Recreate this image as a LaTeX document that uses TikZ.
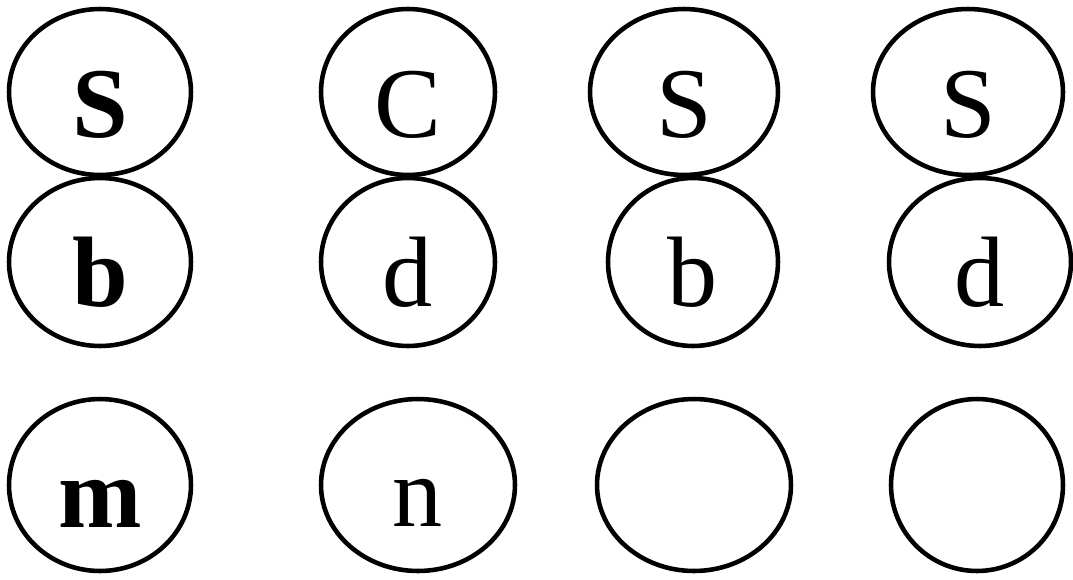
\documentclass[tikz,border=0pt]{standalone}
\usepackage{fontspec}
\setmainfont{Liberation Serif}
\usepackage{tikz}
\usetikzlibrary{shapes.geometric}

\tikzset{
  ring/.style={draw,ellipse,line width=2.6pt,inner sep=0pt,outer sep=0pt},
  lbl/.style={anchor=base,inner sep=0pt}
}

\begin{document}
\begin{tikzpicture}[x=0.02cm,y=-0.02cm,font=\fontsize{57}{60}\selectfont]
\useasboundingbox (0,0) rectangle (1073,579);
% top row
\node[ring,minimum width=3.64cm,minimum height=3.32cm] (topA) at (100,92) {};
\node[ring,minimum width=3.48cm,minimum height=3.32cm] (topB) at (408,92) {};
\node[ring,minimum width=3.76cm,minimum height=3.32cm] (topC) at (684,92) {};
\node[ring,minimum width=3.80cm,minimum height=3.32cm] (topD) at (968,92) {};
% middle row
\node[ring,minimum width=3.64cm,minimum height=3.36cm] (midA) at (100,262) {};
\node[ring,minimum width=3.48cm,minimum height=3.36cm] (midB) at (408,262) {};
\node[ring,minimum width=3.40cm,minimum height=3.36cm] (midC) at (693,262) {};
\node[ring,minimum width=3.64cm,minimum height=3.36cm] (midD) at (980,262) {};
% bottom row
\node[ring,minimum width=3.64cm,minimum height=3.44cm] (botA) at (100,485) {};
\node[ring,minimum width=3.88cm,minimum height=3.44cm] (botB) at (418,485) {};
\node[ring,minimum width=3.88cm,minimum height=3.44cm] (botC) at (694,485) {};
\node[ring,minimum width=3.44cm,minimum height=3.44cm] (botD) at (977,485) {};
% letters
\node[lbl] (topAt) at (100,137) {\textbf{S}};
\node[lbl] (topBt) at (408,137) {C};
\node[lbl] (topCt) at (684,137) {S};
\node[lbl] (topDt) at (968,137) {S};
\node[lbl] (midAt) at (100,306) {\textbf{b}};
\node[lbl] (midBt) at (408,306) {d};
\node[lbl] (midCt) at (693,306) {b};
\node[lbl] (midDt) at (980,306) {d};
\node[lbl] (botAt) at (100,527) {\textbf{m}};
\node[lbl] (botBt) at (418,526) {n};
\end{tikzpicture}
\end{document}
